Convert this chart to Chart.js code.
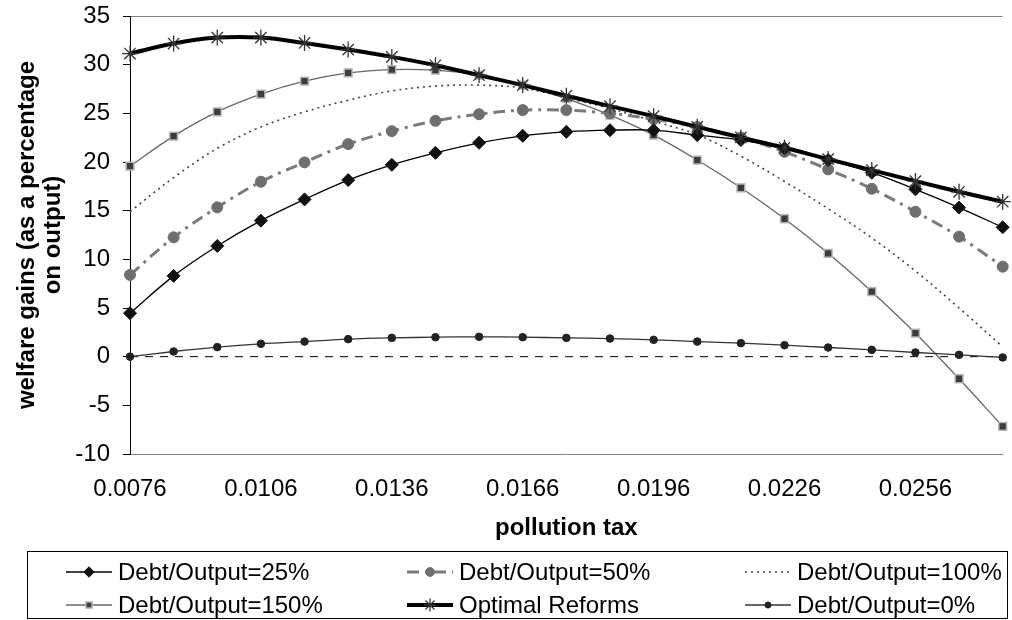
<!DOCTYPE html>
<html>
<head>
<meta charset="utf-8">
<script src="https://cdn.jsdelivr.net/npm/chart.js@4/dist/chart.umd.min.js"></script>
<style>
  html, body { margin: 0; padding: 0; background: #fff; }
  #wrap { position: relative; width: 1012px; height: 620px; }
</style>
</head>
<body>
<div id="wrap"><canvas id="chart" width="1012" height="620"></canvas></div>
<script>
// pollution tax levels (x categories)
const taxLevels = ['0.0076', '0.0086', '0.0096', '0.0106', '0.0116', '0.0126', '0.0136',
  '0.0146', '0.0156', '0.0166', '0.0176', '0.0186', '0.0196', '0.0206', '0.0216',
  '0.0226', '0.0236', '0.0246', '0.0256', '0.0266', '0.0276'];

// welfare gains, % of output
const debt25 = [4.47, 8.3, 11.37, 13.97, 16.16, 18.14, 19.71, 20.94, 21.97, 22.69, 23.1,
  23.27, 23.27, 22.76, 22.25, 21.4, 20.2, 18.9, 17.19, 15.32, 13.29];
const debt50 = [8.4, 12.26, 15.34, 17.97, 19.96, 21.84, 23.17, 24.23, 24.91, 25.33, 25.33,
  25.0, 24.4, 23.6, 22.52, 21.05, 19.24, 17.25, 14.89, 12.33, 9.25];
const debt100 = [14.9, 18.4, 21.4, 23.6, 25.15, 26.35, 27.3, 27.8, 27.9, 27.6, 26.6,
  25.5, 24.2, 22.8, 20.6, 18.0, 15.2, 12.2, 8.8, 5.0, 1.0];
const debt150 = [19.58, 22.66, 25.15, 26.97, 28.3, 29.15, 29.5, 29.43, 28.92, 27.9, 26.5,
  24.81, 22.76, 20.2, 17.35, 14.17, 10.62, 6.68, 2.41, -2.27, -7.17];
const optimal = [31.14, 32.17, 32.78, 32.78, 32.23, 31.55, 30.8, 29.94, 28.92, 27.9, 26.8,
  25.74, 24.71, 23.61, 22.52, 21.46, 20.3, 19.17, 18.04, 16.94, 15.92];
const debt0 = [0, 0.53, 0.98, 1.32, 1.55, 1.8, 1.93, 2.0, 2.04, 2.0, 1.93,
  1.86, 1.73, 1.55, 1.39, 1.18, 0.94, 0.7, 0.43, 0.19, -0.08];
const zeroLine = [0, 0, 0, 0, 0, 0, 0, 0, 0, 0, 0, 0, 0, 0, 0, 0, 0, 0, 0, 0, 0];

const seriesNames = ['Debt/Output=25%', 'Debt/Output=50%', 'Debt/Output=100%',
  'Debt/Output=150%', 'Optimal Reforms', 'Debt/Output=0%'];

const yTicks = { min: -10, max: 35, step: 5 };

const FONT = '"Liberation Sans", Arial, Helvetica, sans-serif';

// draws the boxed 3-column legend under the plot
const legendBoxPlugin = {
  id: 'legendBox',
  afterDraw(chart) {
    const ctx = chart.ctx;
    const cols = [118, 459, 797];
    const rows = [572, 605];
    ctx.save();
    ctx.strokeStyle = '#000';
    ctx.lineWidth = 1;
    ctx.setLineDash([]);
    ctx.strokeRect(27.5, 551.5, 980, 67);
    ctx.font = '24px ' + FONT;
    ctx.textBaseline = 'middle';
    ctx.textAlign = 'left';

    for (let k = 0; k < seriesNames.length; k++) {
      const ds = chart.data.datasets[k];
      const tx = cols[k % 3];
      const y = rows[Math.floor(k / 3)];
      const x0 = tx - 52, x1 = tx - 6;

      ctx.strokeStyle = ds.borderColor;
      ctx.lineWidth = ds.borderWidth;
      ctx.setLineDash(ds.borderDash || []);
      ctx.beginPath();
      ctx.moveTo(x0, y);
      ctx.lineTo(x1, y);
      ctx.stroke();

      if (ds.pointRadius > 0 && Chart.helpers && Chart.helpers.drawPoint) {
        ctx.setLineDash([]);
        ctx.fillStyle = ds.pointBackgroundColor;
        ctx.strokeStyle = ds.pointBorderColor;
        ctx.lineWidth = ds.pointBorderWidth;
        Chart.helpers.drawPoint(ctx, {
          pointStyle: ds.pointStyle,
          radius: ds.pointRadius * 0.8,
          rotation: 0,
          borderWidth: ds.pointBorderWidth
        }, (x0 + x1) / 2, y);
      }

      ctx.fillStyle = '#000';
      ctx.fillText(seriesNames[k], tx, y + 1);
    }
    ctx.restore();
  }
};

const ctx = document.getElementById('chart');
new Chart(ctx, {
  type: 'line',
  data: {
    labels: taxLevels,
    datasets: [
      {
        label: seriesNames[0], data: debt25, order: 2,
        borderColor: '#000', borderWidth: 1.3,
        pointStyle: 'rectRot', pointRadius: 6.5,
        pointBackgroundColor: '#111', pointBorderColor: '#111', pointBorderWidth: 1
      },
      {
        label: seriesNames[1], data: debt50, order: 3,
        borderColor: '#7a7a7a', borderWidth: 3, borderDash: [12, 6, 3, 6],
        pointStyle: 'circle', pointRadius: 5.5,
        pointBackgroundColor: '#6e6e6e', pointBorderColor: '#6e6e6e', pointBorderWidth: 1
      },
      {
        label: seriesNames[2], data: debt100, order: 4,
        borderColor: '#444', borderWidth: 1.6, borderDash: [2, 4],
        pointRadius: 0
      },
      {
        label: seriesNames[3], data: debt150, order: 5,
        borderColor: '#666', borderWidth: 1.3,
        pointStyle: 'rect', pointRadius: 5.5,
        pointBackgroundColor: '#3c3c3c', pointBorderColor: '#b4b4b4', pointBorderWidth: 1.5
      },
      {
        label: seriesNames[4], data: optimal, order: 0,
        borderColor: '#000', borderWidth: 4,
        pointStyle: 'star', pointRadius: 8,
        pointBackgroundColor: '#333', pointBorderColor: '#333', pointBorderWidth: 1.3
      },
      {
        label: seriesNames[5], data: debt0, order: 1,
        borderColor: '#333', borderWidth: 1.3,
        pointStyle: 'circle', pointRadius: 3.8,
        pointBackgroundColor: '#222', pointBorderColor: '#222', pointBorderWidth: 1
      },
      {
        label: 'zero', data: zeroLine, order: 6,
        borderColor: '#000', borderWidth: 1, borderDash: [8, 7],
        pointRadius: 0, tension: 0
      }
    ]
  },
  options: {
    responsive: false,
    animation: false,
    devicePixelRatio: 1,
    layout: {
      padding: { top: 16, right: 0, bottom: 72, left: 0 }
    },
    elements: {
      line: { tension: 0.35, fill: false }
    },
    plugins: {
      legend: { display: false },
      tooltip: { enabled: false }
    },
    scales: {
      x: {
        type: 'category',
        offset: false,
        afterFit: function(scale) {
          scale.height = 94;
          scale.paddingLeft = 0;
          scale.paddingRight = 0;
        },
        grid: { display: false, drawTicks: false },
        border: { display: true, color: '#808080', width: 1 },
        ticks: {
          autoSkip: false,
          maxRotation: 0,
          padding: 21,
          color: '#000',
          font: { family: FONT, size: 24 },
          callback: function(value, index) {
            return index % 3 === 0 ? this.getLabelForValue(value) : '';
          }
        },
        title: {
          display: true,
          text: 'pollution tax',
          color: '#000',
          font: { family: FONT, size: 24, weight: 'bold' },
          padding: { top: 0, bottom: 5 }
        }
      },
      y: {
        min: yTicks.min,
        max: yTicks.max,
        afterFit: function(scale) {
          scale.width = 130;
          scale.paddingTop = 0;
          scale.paddingBottom = 0;
        },
        grid: {
          drawTicks: true,
          tickLength: 7,
          tickColor: '#000',
          color: function(c) { return c.tick && c.tick.value === yTicks.max ? '#808080' : 'rgba(0,0,0,0)'; }
        },
        border: { display: true, color: '#000', width: 1 },
        ticks: {
          stepSize: yTicks.step,
          padding: 13,
          color: '#000',
          font: { family: FONT, size: 24 }
        },
        title: {
          display: true,
          text: ['welfare gains (as a percentage', 'on output)'],
          color: '#000',
          font: { family: FONT, size: 24, weight: 'bold', lineHeight: 1.09 },
          padding: { top: 14, bottom: 0 }
        }
      }
    }
  },
  plugins: [legendBoxPlugin]
});
</script>
</body>
</html>
